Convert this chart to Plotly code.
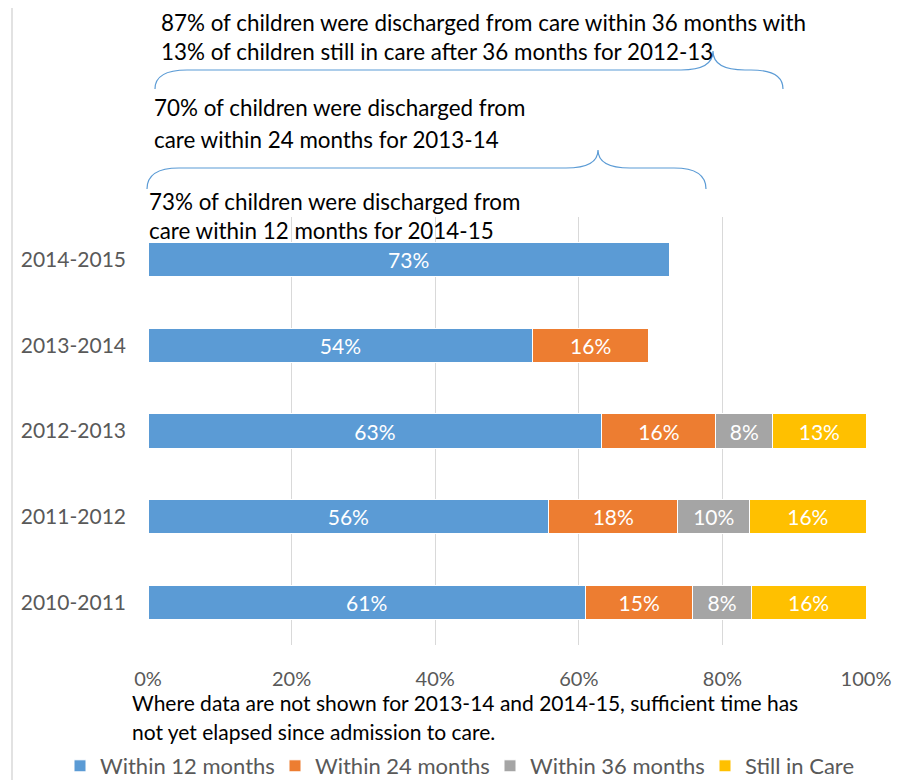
import plotly.graph_objects as go

categories = ["2010-2011", "2011-2012", "2012-2013", "2013-2014", "2014-2015"]
series_names = ["Within 12 months", "Within 24 months", "Within 36 months", "Still in Care"]
within_12 = [60.9, 55.8, 63.2, 53.6, 72.6]
within_24 = [15.0, 18.0, 15.9, 16.1, None]
within_36 = [8.1, 10.0, 7.9, None, None]
still_in_care = [16.0, 16.2, 13.0, None, None]
colors = ["#5B9BD5", "#ED7D31", "#A5A5A5", "#FFC000"]
x_ticks = [0, 20, 40, 60, 80, 100]
x_tick_labels = ["0%", "20%", "40%", "60%", "80%", "100%"]

FONT = "Lato"
OFF = 8  # page body margin
W, H = 911 - OFF, 780 - OFF
L, T = 148 - OFF, 217 - OFF
R = W - (866 - OFF)
B = H - (645 - OFF)
PW, PH = W - L - R, H - T - B


def px(xp):
    # xp given in reference-picture pixels
    return (xp - OFF - L) / PW


def py(yp):
    return (H - B - (yp - OFF)) / PH


fig = go.Figure()
for name, vals, col in zip(series_names, [within_12, within_24, within_36, still_in_care], colors):
    texts = [None if v is None else f"{int(v + 0.5)}%" for v in vals]
    fig.add_trace(go.Bar(
        y=categories, x=vals, name=name, orientation="h",
        marker=dict(color=col, line=dict(color="white", width=1)),
        text=texts, textposition="inside", insidetextanchor="middle",
        textangle=0, constraintext="none",
        textfont=dict(color="white", size=21, family=FONT),
        hoverinfo="skip",
    ))


def brace(x0, x1, xt, y_end, y_line, y_tip, r=32):
    p = (f"M {px(x0)},{py(y_end)} Q {px(x0)},{py(y_line)} {px(x0 + r)},{py(y_line)} "
         f"L {px(xt - r)},{py(y_line)} Q {px(xt)},{py(y_line)} {px(xt)},{py(y_tip)} "
         f"Q {px(xt)},{py(y_line)} {px(xt + r)},{py(y_line)} "
         f"L {px(x1 - r)},{py(y_line)} Q {px(x1)},{py(y_line)} {px(x1)},{py(y_end)}")
    return dict(type="path", xref="paper", yref="paper", path=p,
                line=dict(color="#5B9BD5", width=1.2))


shapes = [
    brace(155, 783, 713, 89, 70, 51),
    brace(147, 706, 598, 189, 168, 150),
    dict(type="line", xref="paper", yref="paper", x0=px(12), x1=px(12), y0=py(0), y1=py(790),
         line=dict(color="#D9D9D9", width=1.5)),
]

notes = [
    (160, 23, "87% of children were discharged from care within 36 months with", 22.4),
    (160, 51, "13% of children still in care after 36 months for 2012-13", 22.4),
    (153, 108, "70% of children were discharged from", 22.4),
    (153, 139, "care within 24 months for 2013-14", 22.4),
    (148, 202, "73% of children were discharged from", 22.4),
    (148, 231, "care within 12 months for 2014-15", 22.4),
    (131, 702, "Where data are not shown for 2013-14 and 2014-15, sufficient time has", 21),
    (131, 731, "not yet elapsed since admission to care.", 21),
]
annotations = [
    dict(x=px(xp), y=py(yp), xref="paper", yref="paper", text=t, showarrow=False,
         xanchor="left", yanchor="middle", align="left", borderpad=0,
         font=dict(family=FONT, size=fs, color="#000000"))
    for xp, yp, t, fs in notes
]

fig.update_layout(
    width=W, height=H, margin=dict(l=L, r=R, t=T, b=B, autoexpand=False),
    barmode="stack", bargap=0.6,
    plot_bgcolor="white", paper_bgcolor="white",
    font=dict(family=FONT, size=21, color="#595959"),
    xaxis=dict(range=[0, 100], tickvals=x_ticks, ticktext=x_tick_labels,
               showgrid=True, gridcolor="#D9D9D9", gridwidth=1, zeroline=False,
               ticks="", ticklabelstandoff=20, tickfont=dict(size=20, color="#595959"),
               fixedrange=True),
    yaxis=dict(categoryorder="array", categoryarray=categories, range=[-0.5, 4.5],
               showgrid=False, zeroline=False, ticks="", ticklabelstandoff=21,
               tickfont=dict(size=21, color="#595959"), fixedrange=True),
    legend=dict(orientation="h", x=px(60), xanchor="left",
                y=py(766), yanchor="middle", font=dict(size=22, color="#595959"),
                entrywidth=170, itemwidth=30, traceorder="normal", borderwidth=0),
    shapes=shapes, annotations=annotations, showlegend=True,
)

fig.write_html("out.html")
